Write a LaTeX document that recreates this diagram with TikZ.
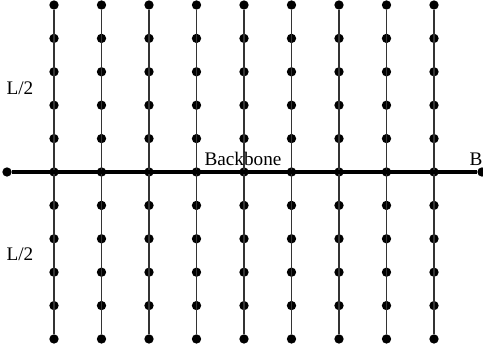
\documentclass[tikz,border=0pt]{standalone}
\usepackage{fontspec}
\setmainfont{Liberation Serif}
\usetikzlibrary{positioning}
\tikzset{
  bead/.style={circle, fill=black, inner sep=0pt, minimum size=7pt},
  chain/.style={line width=1.3pt, draw=black!80},
  spine/.style={line width=3pt, draw=black},
  lbl/.style={font=\fontsize{14.4}{16}\selectfont, inner sep=0pt},
}

\begin{document}
\begin{tikzpicture}[x=0.75pt, y=-0.75pt]
  \useasboundingbox (0,0) rectangle (483,352);

  % side chains
  \foreach \i in {1,...,9}{
    \foreach \j in {0,...,10}
      \node[bead] (b\i-\j) at ({54+(\i-1)*47.5}, {5+\j*33.4}) {};
    \draw[chain] (b\i-0) -- (b\i-10);
  }

  % backbone
  \node[bead] (left)  at (7,172) {};
  \node[bead] (right) at (482,172) {};
  \draw[spine] (left) -- (right);

  % labels
  \node[lbl]              (halftop) at (20,88)  {L/2};
  \node[lbl]              (halfbot) at (20,254) {L/2};
  \node[lbl, anchor=base] (spinelbl) at (243,166) {Backbone};
  \node[lbl, anchor=base] (endlbl)   at (476,166) {B};
\end{tikzpicture}
\end{document}
